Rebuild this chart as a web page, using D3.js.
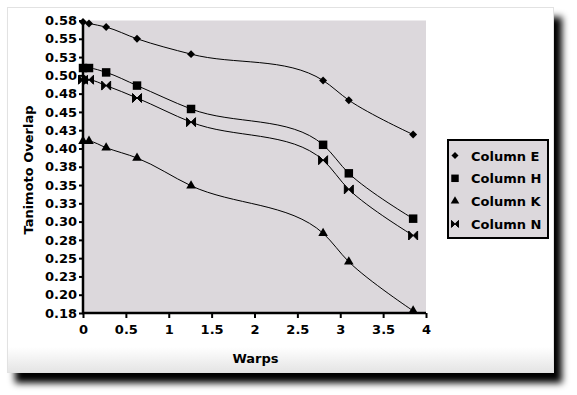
<!DOCTYPE html>
<html>
<head>
<meta charset="utf-8">
<script src="https://cdn.jsdelivr.net/npm/d3@7"></script>
<style>
  body { margin: 0; background: #fff; }
  text { font-family: "DejaVu Sans", sans-serif; font-weight: bold; font-size: 13px; fill: #000; }
</style>
</head>
<body>
<div id="chart"></div>
<script>
// data
var warps = [0, 0.07, 0.27, 0.63, 1.26, 2.8, 3.1, 3.85];
var columnE = [0.573, 0.571, 0.566, 0.550, 0.529, 0.493, 0.466, 0.419];
var columnH = [0.510, 0.510, 0.504, 0.486, 0.454, 0.405, 0.366, 0.304];
var columnK = [0.410, 0.410, 0.401, 0.387, 0.349, 0.284, 0.245, 0.178];
var columnN = [0.494, 0.494, 0.486, 0.469, 0.436, 0.384, 0.344, 0.281];
var seriesNames = ["Column E", "Column H", "Column K", "Column N"];
var yTicks = [0.175, 0.2, 0.225, 0.25, 0.275, 0.3, 0.325, 0.35, 0.375, 0.4, 0.425, 0.45, 0.475, 0.5, 0.525, 0.55, 0.575];
var yTickLabels = ["0.18", "0.20", "0.23", "0.25", "0.28", "0.30", "0.33", "0.35", "0.38", "0.40", "0.43", "0.45", "0.48", "0.50", "0.53", "0.55", "0.58"];
var xTicks = [0, 0.5, 1, 1.5, 2, 2.5, 3, 3.5, 4];
var xTickLabels = ["0", "0.5", "1", "1.5", "2", "2.5", "3", "3.5", "4"];

var width = 577, height = 395;
var plot = {left: 83, right: 426, top: 20.5, bottom: 313};

var svg = d3.select("#chart").append("svg")
	.attr("width", width)
	.attr("height", height);

var defs = svg.append("defs");
var shadow = defs.append("filter").attr("id", "shadow")
	.attr("x", "-5%").attr("y", "-5%").attr("width", "115%").attr("height", "125%");
shadow.append("feDropShadow")
	.attr("dx", 8).attr("dy", 10)
	.attr("stdDeviation", 3.5)
	.attr("flood-color", "#000")
	.attr("flood-opacity", 1);

var bevel = defs.append("linearGradient").attr("id", "bevel")
	.attr("x1", 0).attr("y1", 0).attr("x2", 0).attr("y2", 1);
bevel.append("stop").attr("offset", "0%").attr("stop-color", "#ffffff");
bevel.append("stop").attr("offset", "93%").attr("stop-color", "#ffffff");
bevel.append("stop").attr("offset", "100%").attr("stop-color", "#e4e4e4");

// card with drop shadow
svg.append("rect")
	.attr("x", 7.5).attr("y", 7.5)
	.attr("width", 546).attr("height", 365)
	.style("fill", "url(#bevel)")
	.style("stroke", "#e2e2e2")
	.style("stroke-width", 1)
	.attr("filter", "url(#shadow)");

var x = d3.scaleLinear().domain([0, 4]).range([plot.left, plot.right]);
var y = d3.scaleLinear().domain([0.175, 0.575]).range([plot.bottom, plot.top]);

// plot background
svg.append("rect")
	.attr("x", x(0)).attr("y", y(0.575))
	.attr("width", x(4) - x(0)).attr("height", y(0.175) - y(0.575))
	.style("fill", "#dcd8dc");

// axes
var yAxis = d3.axisLeft(y)
	.tickValues(yTicks)
	.tickSize(4)
	.tickPadding(2)
	.tickFormat(function(d, i) { return yTickLabels[i]; });
var xAxis = d3.axisBottom(x)
	.tickValues(xTicks)
	.tickSize(5)
	.tickPadding(7)
	.tickFormat(function(d, i) { return xTickLabels[i]; });

var gy = svg.append("g")
	.attr("transform", "translate(" + plot.left + ",0)")
	.call(yAxis);
var gx = svg.append("g")
	.attr("transform", "translate(0," + plot.bottom + ")")
	.call(xAxis);

[gx, gy].forEach(function(g) {
	g.select(".domain").style("stroke", "#000").style("stroke-width", 2.5);
	g.selectAll(".tick line").style("stroke", "#000").style("stroke-width", 2);
	g.selectAll("text")
		.style("font-family", "DejaVu Sans")
		.style("font-weight", "bold")
		.style("font-size", "13px")
		.style("fill", "#000");
});
gy.select(".domain").attr("d", "M0," + plot.top + "V" + (plot.bottom + 1));
gx.select(".domain").attr("d", "M" + (plot.left - 1) + ",0H" + plot.right);

// axis titles
svg.append("text")
	.attr("x", (plot.left + plot.right) / 2 + 1)
	.attr("y", 363)
	.attr("text-anchor", "middle")
	.text("Warps");
svg.append("text")
	.attr("transform", "translate(33,170) rotate(-90)")
	.attr("text-anchor", "middle")
	.text("Tanimoto Overlap");

// series
var seriesValues = [columnE, columnH, columnK, columnN];
var symbols = [
	d3.symbol().type(d3.symbolDiamond2).size(40),
	d3.symbol().type(d3.symbolSquare).size(72),
	d3.symbol().type(d3.symbolTriangle).size(40),
	null
];
// bowtie marker (two triangles pointing inward)
function bowtie(s) {
	return "M" + (-s) + "," + (-s) + "L0,0L" + (-s) + "," + s + "Z" +
		"M" + s + "," + (-s) + "L0,0L" + s + "," + s + "Z";
}
function markerPath(i) {
	return i === 3 ? bowtie(4.5) : symbols[i]();
}

var line = d3.line()
	.x(function(d) { return x(d[0]); })
	.y(function(d) { return y(d[1]); })
	.curve(d3.curveCatmullRom.alpha(1));

seriesValues.forEach(function(vals, i) {
	var pts = warps.map(function(w, j) { return [w, vals[j]]; });
	svg.append("path")
		.datum(pts)
		.attr("d", line)
		.style("fill", "none")
		.style("stroke", "#000")
		.style("stroke-width", 1);
	svg.append("g").selectAll("path")
		.data(pts)
		.enter().append("path")
		.attr("transform", function(d) { return "translate(" + x(d[0]) + "," + y(d[1]) + ")"; })
		.attr("d", markerPath(i))
		.style("fill", "#000")
		.style("stroke", i === 3 ? "#000" : "none")
		.style("stroke-width", 1);
});

// legend
var legend = svg.append("g");
legend.append("rect")
	.attr("x", 448).attr("y", 140)
	.attr("width", 100).attr("height", 98)
	.style("fill", "#dcd8dc")
	.style("stroke", "#000")
	.style("stroke-width", 2);
var items = legend.selectAll("g.item")
	.data(seriesNames)
	.enter().append("g")
	.attr("class", "item")
	.attr("transform", function(d, i) { return "translate(455," + (155.5 + i * 22.8) + ")"; });
items.append("path")
	.attr("d", function(d, i) { return i === 3 ? bowtie(3.5) : symbols[i].size(i === 1 ? 56 : 32)(); })
	.style("fill", "#000")
	.style("stroke", function(d, i) { return i === 3 ? "#000" : "none"; });
items.append("text")
	.attr("x", 16)
	.attr("y", 5)
	.text(function(d) { return d; });
</script>
</body>
</html>
